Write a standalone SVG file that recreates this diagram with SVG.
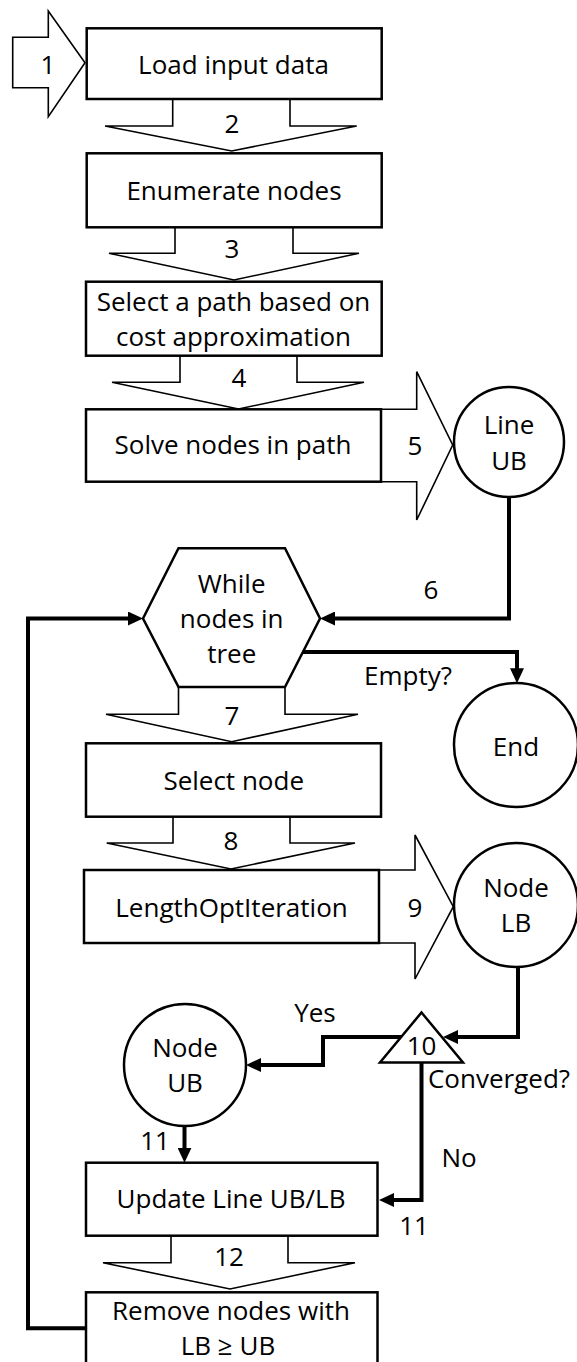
<svg xmlns="http://www.w3.org/2000/svg" width="577" height="1362" viewBox="0 0 577 1362">
  <defs>
    <style>
      .box { fill: #ffffff; stroke: #000000; stroke-width: 2.5; }
      .blk { fill: #ffffff; stroke: #000000; stroke-width: 1.6; stroke-linejoin: miter; }
      .conn { fill: none; stroke: #000000; stroke-width: 4; }
      text { font-family: "Open Sans", "DejaVu Sans", sans-serif; font-size: 26px; fill: #000000; text-anchor: middle; }
    </style>
    <marker id="head" viewBox="0 0 15 14" markerWidth="15" markerHeight="14" refX="5" refY="7" orient="auto" markerUnits="userSpaceOnUse">
      <path d="M0,0 L15,7 L0,14 z" fill="#000000"/>
    </marker>
  </defs>
  <rect width="577" height="1362" fill="#ffffff"/>

  <!-- block arrows between steps -->
  <g id="steps">
    <g id="step1"><path class="blk" d="M12.7,37.3 L48.3,37.3 L48.3,11 L85,62.7 L48.3,116.7 L48.3,87.7 L12.7,87.7 Z"/><text x="48" y="74">1</text></g>
    <g id="step2"><path class="blk" d="M172.7,99 L172.7,126 L105,126 L231.7,151 L356.7,126 L290,126 L290,99"/><text x="232" y="133">2</text></g>
    <g id="step3"><path class="blk" d="M175,227.3 L175,253.3 L109,253.3 L234,280 L359,253.3 L293,253.3 L293,227.3"/><text x="232" y="258">3</text></g>
    <g id="step4"><path class="blk" d="M180,355.7 L180,382.3 L112,382.3 L238.5,409 L364,382.3 L297,382.3 L297,355.7"/><text x="239" y="387">4</text></g>
    <g id="step5"><path class="blk" d="M381,409.3 L416.7,409.3 L416.7,371.7 L452.7,445 L416.7,520 L416.7,481.7 L381,481.7"/><text x="415" y="455">5</text></g>
    <g id="step7"><path class="blk" d="M178.5,687 L178.5,714.3 L106,714.3 L231.7,741.7 L358,714.3 L285,714.3 L285,687"/><text x="232" y="725">7</text></g>
    <g id="step8"><path class="blk" d="M173,816.7 L173,843 L106.7,843 L231,869 L355,843 L290,843 L290,816.7"/><text x="231" y="850">8</text></g>
    <g id="step9"><path class="blk" d="M379,870 L415,870 L415,835 L453.3,906.7 L415,979 L415,943 L379,943"/><text x="415" y="916.7">9</text></g>
    <g id="step12"><path class="blk" d="M171,1236 L171,1262.7 L103,1262.7 L230,1289 L355,1262.7 L288,1262.7 L288,1236"/><text x="229" y="1266">12</text></g>
  </g>

  <!-- process boxes -->
  <g id="load"><rect class="box" x="86.7" y="28.3" width="295" height="70.7"/><text x="233.5" y="74.3">Load input data</text></g>
  <g id="enumerate"><rect class="box" x="86.7" y="153.3" width="295" height="74"/><text x="234" y="200">Enumerate nodes</text></g>
  <g id="select-path"><rect class="box" x="86" y="281.7" width="295.7" height="74"/><text x="233.5" y="311">Select a path based on</text><text x="233.5" y="346">cost approximation</text></g>
  <g id="solve"><rect class="box" x="86" y="409.3" width="295" height="72.4"/><text x="233" y="454">Solve nodes in path</text></g>
  <g id="line-ub"><circle class="box" cx="509" cy="442" r="55"/><text x="509" y="434">Line</text><text x="509" y="470">UB</text></g>
  <g id="while"><polygon class="box" points="143,618.5 178.5,548.3 285,548.3 320,618.5 285,687 178.5,687"/><text x="231.7" y="593.3">While</text><text x="231.7" y="628.3">nodes in</text><text x="231.7" y="663.3">tree</text></g>
  <g id="end"><circle class="box" cx="516" cy="745" r="62"/><text x="516" y="756">End</text></g>
  <g id="select-node"><rect class="box" x="86" y="743.3" width="295" height="73.4"/><text x="233.7" y="790">Select node</text></g>
  <g id="length-opt"><rect class="box" x="84" y="870" width="295" height="73"/><text x="231.5" y="916.7">LengthOptIteration</text></g>
  <g id="node-lb"><circle class="box" cx="516" cy="905" r="62"/><text x="516" y="896.7">Node</text><text x="516" y="931.7">LB</text></g>
  <g id="converged"><polygon class="box" points="421.5,1012.5 463,1062.5 380,1062.5"/><text x="421.6" y="1055">10</text></g>
  <g id="node-ub"><circle class="box" cx="185" cy="1065" r="61"/><text x="185" y="1056.7">Node</text><text x="185" y="1092.3">UB</text></g>
  <g id="update"><rect class="box" x="86" y="1162.7" width="291.5" height="73"/><text x="231" y="1208.3">Update Line UB/LB</text></g>
  <g id="remove"><rect class="box" x="86" y="1292.3" width="291.5" height="74"/><text x="231" y="1320">Remove nodes with</text><text x="228" y="1355">LB ≥ UB</text></g>

  <!-- connectors -->
  <g id="connectors">
    <path class="conn" d="M509,497 L509,618.5 L330,618.5" marker-end="url(#head)"/>
    <path class="conn" d="M302.8,652 L517,652 L517,673.3" marker-end="url(#head)"/>
    <path class="conn" d="M86,1328.3 L28,1328.3 L28,618.5 L133,618.5" marker-end="url(#head)"/>
    <path class="conn" d="M518,967 L518,1037 L453,1037" marker-end="url(#head)"/>
    <path class="conn" d="M401,1037 L323,1037 L323,1065 L256,1065" marker-end="url(#head)"/>
    <path class="conn" d="M184.5,1126 L184.5,1152.7" marker-end="url(#head)"/>
    <path class="conn" d="M421.5,1062.5 L421.5,1200 L389,1200" marker-end="url(#head)"/>
    <text x="431" y="599">6</text>
    <text x="408" y="685">Empty?</text>
    <text x="315" y="1021.7">Yes</text>
    <text x="499" y="1088.3">Converged?</text>
    <text x="459" y="1166.7">No</text>
    <text x="155" y="1150">11</text>
    <text x="414" y="1235">11</text>
  </g>
</svg>
